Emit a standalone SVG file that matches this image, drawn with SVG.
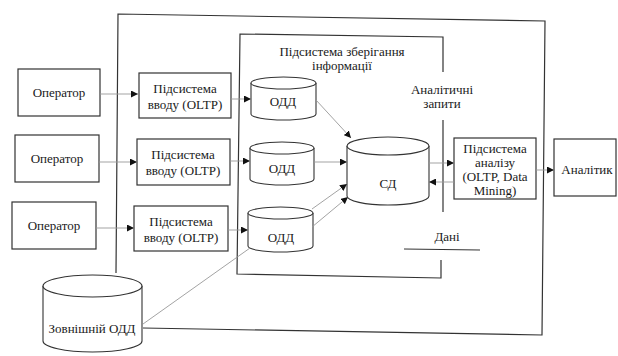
<svg xmlns="http://www.w3.org/2000/svg" width="618" height="356" viewBox="0 0 618 356">
<defs>
<marker id="ah" viewBox="0 0 10 10" refX="10" refY="5" markerWidth="7" markerHeight="7" orient="auto" markerUnits="userSpaceOnUse">
<path d="M0,0 L10,5 L0,10 z" fill="#111"/>
</marker>
</defs>
<style>
.box{fill:#fff;stroke:#333;stroke-width:1.2}
.frame{fill:none;stroke:#333;stroke-width:1.2}
.cyl{fill:#fff;stroke:#333;stroke-width:1.1}
.t{font-family:"Liberation Serif","DejaVu Serif",serif;font-size:13px;fill:#1a1a1a;text-anchor:middle}
.c{fill:none;stroke:#999;stroke-width:0.9}
.ca{fill:none;stroke:#999;stroke-width:0.9;marker-end:url(#ah)}
</style>
<g id="frames">
<path class="frame" d="M116,273 L118,14 L545,21 L542,335 L143,328"/>
<path class="frame" d="M443,72 L443,37 L240,34 L237,274 L441,278 L441,260"/>
<path class="frame" d="M443,120 L443,212"/>
<path class="frame" d="M404,249 L480,250"/>
</g>
<g id="operator1"><rect class="box" x="18" y="69" width="82" height="47"/><text class="t" x="59" y="97">Оператор</text></g>
<g id="operator2"><rect class="box" x="15" y="135" width="84" height="47"/><text class="t" x="57" y="163">Оператор</text></g>
<g id="operator3"><rect class="box" x="12" y="202" width="84" height="47"/><text class="t" x="54" y="230">Оператор</text></g>
<g id="input1"><rect class="box" x="139" y="73" width="92" height="45"/><text class="t" x="185" y="93">Підсистема</text><text class="t" x="185" y="109">вводу (OLTP)</text></g>
<g id="input2"><rect class="box" x="137" y="139" width="93" height="46"/><text class="t" x="183" y="159">Підсистема</text><text class="t" x="183" y="175">вводу (OLTP)</text></g>
<g id="input3"><rect class="box" x="134" y="206" width="94" height="45"/><text class="t" x="181" y="226">Підсистема</text><text class="t" x="181" y="242">вводу (OLTP)</text></g>
<g id="storage-title"><text class="t" x="342" y="56">Підсистема зберігання</text><text class="t" x="342" y="70">інформації</text></g>
<g id="odd1"><path class="cyl" d="M251,83 V114 A32.5,6 0 0 0 316,114 V83"/><ellipse class="cyl" cx="283.5" cy="83" rx="32.5" ry="6"/><text class="t" x="283" y="106">ОДД</text></g>
<g id="odd2"><path class="cyl" d="M250,148 V179 A32,6 0 0 0 314,179 V148"/><ellipse class="cyl" cx="282" cy="148" rx="32" ry="6"/><text class="t" x="282" y="173">ОДД</text></g>
<g id="odd3"><path class="cyl" d="M248,213 V246 A32.5,6 0 0 0 313,246 V213"/><ellipse class="cyl" cx="280.5" cy="213" rx="32.5" ry="6"/><text class="t" x="281" y="242">ОДД</text></g>
<g id="sd"><path class="cyl" d="M347,146 V196 A41,9 0 0 0 429,196 V146"/><ellipse class="cyl" cx="388" cy="146" rx="41" ry="9"/><text class="t" x="388" y="188">СД</text></g>
<g id="ext-odd"><path class="cyl" d="M43,286 V341 A49.5,11 0 0 0 142,341 V286"/><ellipse class="cyl" cx="92.5" cy="286" rx="49.5" ry="11"/><text class="t" x="92" y="333">Зовнішній ОДД</text></g>
<g id="analysis"><rect class="box" x="454" y="138" width="82" height="61"/><text class="t" x="495" y="153">Підсистема</text><text class="t" x="495" y="167">аналізу</text><text class="t" x="495" y="181">(OLTP, Data</text><text class="t" x="495" y="195">Mining)</text></g>
<g id="analyst"><rect class="box" x="554" y="139" width="62" height="57"/><text class="t" x="587" y="174">Аналітик</text></g>
<g id="labels"><text class="t" x="442" y="94">Аналітичні</text><text class="t" x="442" y="108">запити</text><text class="t" x="447" y="241">Дані</text></g>
<g id="connectors">
<path class="ca" d="M100,94 L138,94"/>
<path class="ca" d="M99,162 L137,162"/>
<path class="ca" d="M96,228 L134,228"/>
<path class="ca" d="M231,99 L251,99"/>
<path class="ca" d="M230,161 L250,161"/>
<path class="ca" d="M228,230 L248,230"/>
<path class="ca" d="M316,100 L351,138"/>
<path class="ca" d="M314,162 L347,162"/>
<path class="ca" d="M312,209 L347,184"/>
<path class="ca" d="M312,227 L348,197"/>
<path class="c" d="M143,324 L250,248"/>
<path class="ca" d="M429,163 L454,163"/>
<path class="ca" d="M454,182 L429,182"/>
<path class="ca" d="M536,170 L554,170"/>
</g>
</svg>
